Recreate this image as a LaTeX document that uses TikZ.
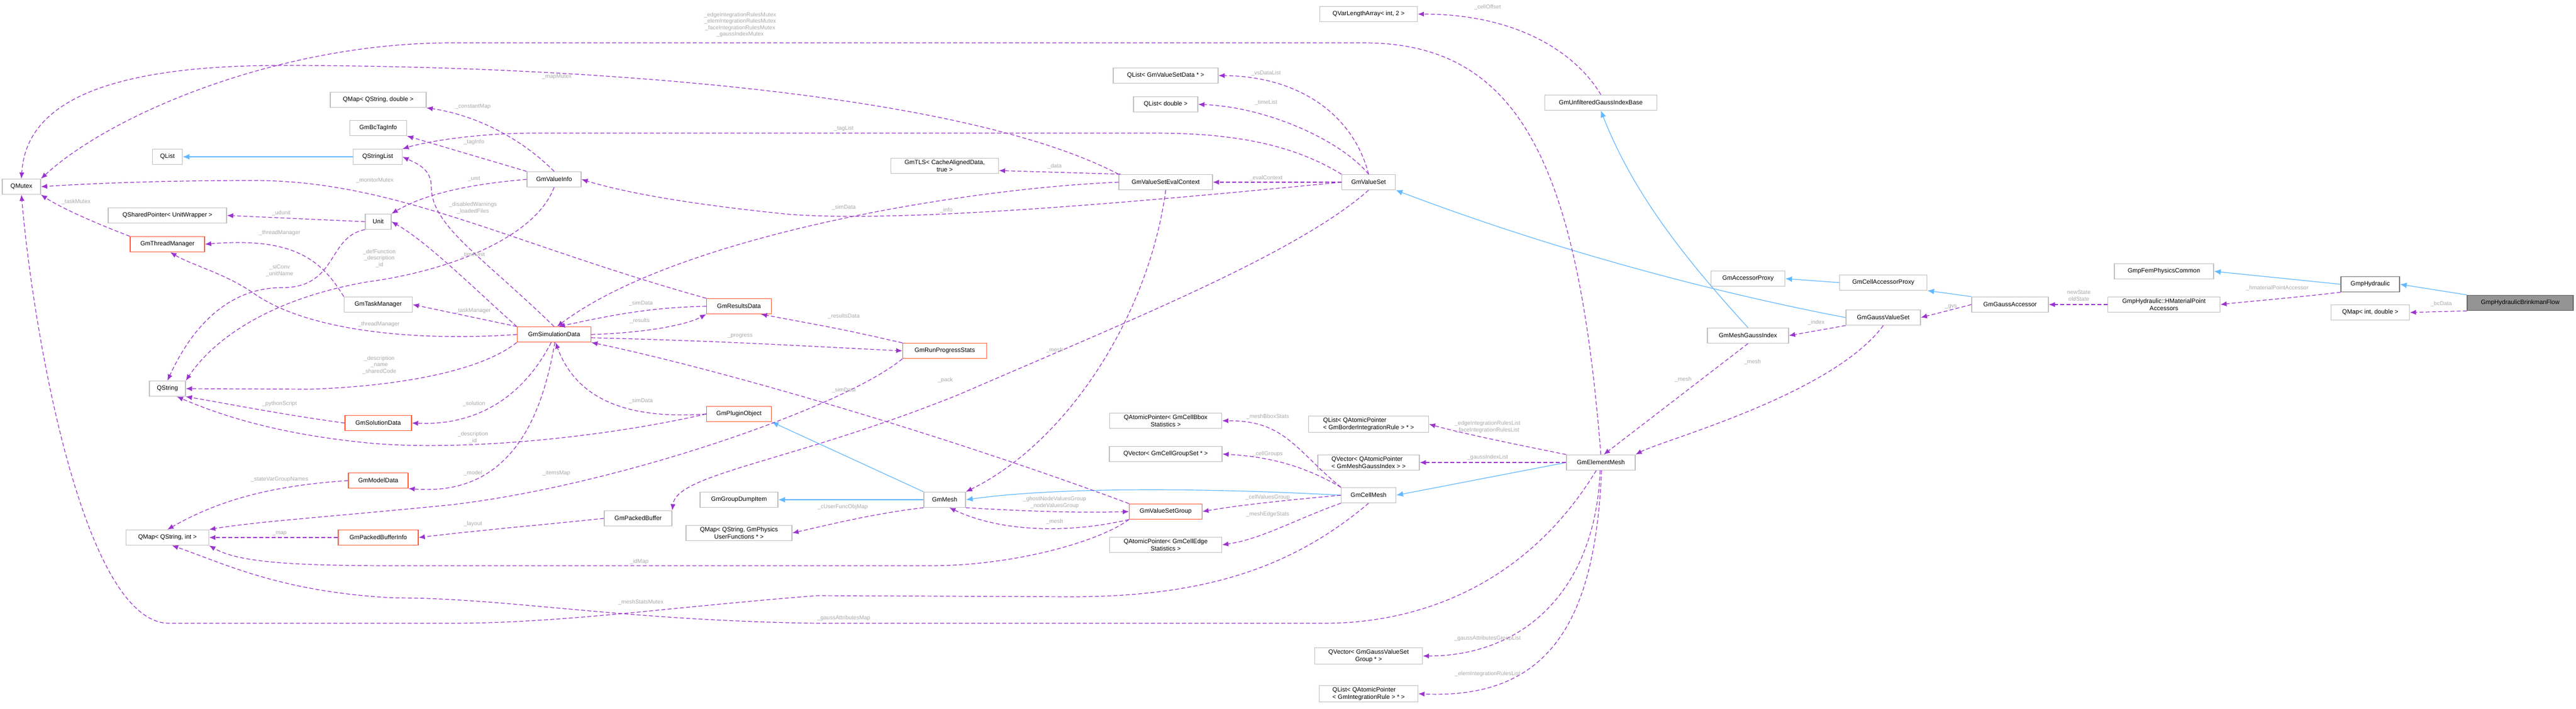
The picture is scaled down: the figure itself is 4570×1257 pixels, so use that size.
\documentclass[tikz,border=0pt]{standalone}
\usepackage{fontspec}
\setmainfont{Liberation Sans}
\usetikzlibrary{arrows.meta}
\definecolor{dep}{HTML}{9A32CD}
\definecolor{inh}{HTML}{63B8FF}
\definecolor{bx}{HTML}{BFBFBF}
\definecolor{org}{HTML}{FF5A36}
\definecolor{lbl}{HTML}{A8A8A8}
\begin{document}
\begin{tikzpicture}[x=1pt,y=-1pt,
  box/.style={draw=bx,line width=1.3pt,fill=white,minimum height=27pt,inner sep=3pt,font=\fontsize{11}{13}\selectfont,align=center},
  obox/.style={box,draw=org},
  tbox/.style={box,fill=black!42,draw=black!60},
  dp/.style={draw=dep,line width=1.2pt,dash pattern=on 7pt off 4pt,-{Latex[length=11pt,width=9pt]}},
  ih/.style={draw=inh,line width=1.2pt,-{Latex[length=12pt,width=10pt]}},
  lb/.style={text=lbl,font=\fontsize{10}{11.5}\selectfont,align=center,inner sep=0pt}]
\useasboundingbox (0,0) rectangle (4570,1257);
% nodes
\node[box,minimum width=68] (qmutex) at (38,331) {QMutex};
\node[box,minimum width=53] (qlist) at (297,278) {QList};
\node[box,minimum width=87] (qsl) at (670,278) {QStringList};
\node[box,minimum width=101] (tag) at (671,227) {GmBcTagInfo};
\node[box,minimum width=170] (qsd) at (671,177) {QMap< QString, double >};
\node[box,minimum width=210] (qsp) at (297,382) {QSharedPointer< UnitWrapper >};
\node[box,minimum width=46] (unit) at (671,393) {Unit};
\node[obox,minimum width=132] (gtm) at (297,433) {GmThreadManager};
\node[box,minimum width=64] (qstr) at (297,689) {QString};
\node[box,minimum width=121] (gtk) at (671,540) {GmTaskManager};
\node[obox,minimum width=118] (gsol) at (671,750) {GmSolutionData};
\node[obox,minimum width=106] (gmd) at (671,852) {GmModelData};
\node[box,minimum width=147] (qsi) at (297,953) {QMap< QString, int >};
\node[obox,minimum width=142] (gpbi) at (671,953) {GmPackedBufferInfo};
\node[box,minimum width=96] (gvi) at (983,318) {GmValueInfo};
\node[obox,minimum width=131] (gsd) at (983,593) {GmSimulationData};
\node[obox,minimum width=115] (grd) at (1311,543) {GmResultsData};
\node[obox,minimum width=115] (gpo) at (1311,734) {GmPluginObject};
\node[box,minimum width=120] (gpb) at (1132,919) {GmPackedBuffer};
\node[box,minimum width=138] (gdump) at (1311,886) {GmGroupDumpItem};
\node[box,minimum width=188] (qpuf) at (1311,945) {QMap< QString, GmPhysics\\UserFunctions * >};
\node[box,minimum width=186] (qlvsd) at (2068,134) {QList< GmValueSetData * >};
\node[box,minimum width=114] (qld) at (2068,185) {QList< double >};
\node[box,minimum width=191] (tls) at (1676,294) {GmTLS< CacheAlignedData,\\true >};
\node[box,minimum width=166] (evc) at (2068,323) {GmValueSetEvalContext};
\node[obox,minimum width=149] (grp) at (1676,622) {GmRunProgressStats};
\node[box,minimum width=74] (gmesh) at (1676,886) {GmMesh};
\node[obox,minimum width=129] (gvsg) at (2068,907) {GmValueSetGroup};
\node[box,minimum width=199] (bbox) at (2068,746) {QAtomicPointer< GmCellBbox\\Statistics >};
\node[box,minimum width=200] (cgs) at (2068,805) {QVector< GmCellGroupSet * >};
\node[box,minimum width=199] (edge) at (2068,966) {QAtomicPointer< GmCellEdge\\Statistics >};
\node[box,minimum width=173] (qvla) at (2428,25) {QVarLengthArray< int, 2 >};
\node[box,minimum width=95] (vs) at (2428,323) {GmValueSet};
\node[box,minimum width=199] (gug) at (2840,182) {GmUnfilteredGaussIndexBase};
\node[box,minimum width=131] (ap) at (3101,494) {GmAccessorProxy};
\node[box,minimum width=144] (mgi) at (3101,595) {GmMeshGaussIndex};
\node[box,minimum width=97] (cm) at (2428,878) {GmCellMesh};
\node[box,minimum width=213,align=left] (qlbir) at (2428,752) {QList< QAtomicPointer\\< GmBorderIntegrationRule > * >};
\node[box,minimum width=180,align=left] (qvmgi) at (2428,820) {QVector< QAtomicPointer\\< GmMeshGaussIndex > >};
\node[box,minimum width=122] (em) at (2840,820) {GmElementMesh};
\node[box,minimum width=191] (qvgvsg) at (2428,1163) {QVector< GmGaussValueSet\\Group * >};
\node[box,minimum width=175,align=left] (qlir) at (2428,1230) {QList< QAtomicPointer\\< GmIntegrationRule > * >};
\node[box,minimum width=155] (cap) at (3341,501) {GmCellAccessorProxy};
\node[box,minimum width=136] (ga) at (3566,540) {GmGaussAccessor};
\node[box,minimum width=132] (gvset) at (3341,563) {GmGaussValueSet};
\node[box,minimum width=176] (gfpc) at (3839,481) {GmpFemPhysicsCommon};
\node[box,minimum width=199] (hmpa) at (3839,540) {GmpHydraulic::HMaterialPoint\\Accessors};
\node[box,minimum width=104,draw=black!55] (gh) at (4205,504) {GmpHydraulic};
\node[box,minimum width=139] (qid) at (4205,554) {QMap< int, double >};
\node[tbox,minimum width=188] (bf) at (4471,537) {GmpHydraulicBrinkmanFlow};
% inheritance
\draw[ih] (qsl.west) -- (qlist.east);
\draw[ih] (gmesh.north west) -- (gpo.south east);
\draw[ih] (gmesh.west) -- (gdump.east);
\draw[ih] (cm.west) .. controls (2200,868) and (1900,860) .. (gmesh.east);
\draw[ih] (em.west) -- (cm.east);
\draw[ih] (mgi.north) .. controls (3000,470) and (2900,350) .. (gug.south);
\draw[ih] (gvset.west) .. controls (3100,530) and (2800,460) .. (vs.south east);
\draw[ih] (cap.west) -- (ap.east);
\draw[ih] (ga.north west) -- (cap.south east);
\draw[ih] (gh.west) -- (gfpc.east);
\draw[ih] (bf.north west) -- (gh.east);
% dependencies
\draw[dp] (em.north) .. controls (2800,300) and (2700,76) .. (2420,76) -- (800,76) .. controls (500,76) and (200,200) .. (qmutex.north east);
\draw[dp] (evc.north west) .. controls (1700,160) and (1000,116) .. (500,116) .. controls (150,116) and (45,200) .. (qmutex.north);
\draw[dp] (grd.north west) .. controls (900,430) and (700,320) .. (450,320) .. controls (250,320) and (120,328) .. (qmutex.east);
\draw[dp] (gtm.north west) .. controls (180,400) and (110,370) .. (qmutex.south east);
\draw[dp] (cm.south) .. controls (2300,1000) and (2150,1058) .. (1900,1058) -- (1450,1056) .. controls (1200,1075) and (1000,1105) .. (800,1105) -- (300,1105) .. controls (150,1105) and (60,600) .. (qmutex.south);
\draw[dp] (em.240) .. controls (2700,1050) and (2500,1105) .. (2350,1105) -- (1450,1105) .. controls (1100,1100) and (900,1060) .. (700,1060) .. controls (500,1050) and (400,1000) .. (qsi.-60);
\draw[dp] (gvi.north) .. controls (930,250) and (850,205) .. (qsd.south east);
\draw[dp] (gvi.north west) -- (tag.south east);
\draw[dp] (vs.north west) .. controls (2300,260) and (2200,236) .. (2050,236) -- (950,236) .. controls (850,236) and (760,250) .. (qsl.north east);
\draw[dp] (gsd.north) .. controls (850,450) and (765,400) .. (765,330) .. controls (765,300) and (740,290) .. (qsl.east);
\draw[dp] (gvi.west) .. controls (850,325) and (760,340) .. (unit.north east);
\draw[dp] (unit.west) -- (qsp.east);
\draw[dp] (unit.south west) .. controls (580,420) and (600,510) .. (500,510) .. controls (420,510) and (350,560) .. (qstr.north);
\draw[dp] (gsd.north west) .. controls (850,520) and (760,430) .. (unit.east);
\draw[dp] (gtk.north west) .. controls (570,460) and (520,420) .. (gtm.east);
\draw[dp] (gsd.west) .. controls (750,605) and (550,590) .. (450,520) .. controls (400,485) and (340,470) .. (gtm.-70);
\draw[dp] (gvi.south) .. controls (950,420) and (800,480) .. (650,500) .. controls (480,530) and (380,600) .. (qstr.north east);
\draw[dp] (gsd.south west) .. controls (850,660) and (700,685) .. (550,690) -- (qstr.east);
\draw[dp] (gsol.west) .. controls (500,735) and (400,715) .. (qstr.south east);
\draw[dp] (gpo.west) .. controls (1050,780) and (800,800) .. (650,785) .. controls (500,770) and (400,740) .. (qstr.-40);
\draw[dp] (gsd.north west) -- (gtk.east);
\draw[dp] (gsd.250) .. controls (930,700) and (850,755) .. (gsol.east);
\draw[dp] (gsd.275) .. controls (960,750) and (900,880) .. (gmd.south east);
\draw[dp] (gmd.west) .. controls (500,860) and (400,880) .. (qsi.north);
\draw[dp] (gpbi.west) -- (qsi.east);
\draw[dp] (gpb.west) .. controls (1000,927) and (850,940) .. (gpbi.east);
\draw[dp] (gvsg.south west) .. controls (1950,960) and (1800,1003) .. (1650,1003) -- (700,1003) .. controls (500,1003) and (420,995) .. (qsi.south east);
\draw[dp] (grp.south west) .. controls (1500,720) and (1100,860) .. (800,895) .. controls (600,915) and (450,925) .. (qsi.north east);
\draw[dp] (grd.west) .. controls (1150,545) and (1080,560) .. (gsd.60);
\draw[dp] (gsd.east) .. controls (1150,590) and (1220,575) .. (grd.south west);
\draw[dp] (gsd.-5) .. controls (1300,605) and (1450,615) .. (grp.west);
\draw[dp] (grp.north west) .. controls (1500,585) .. (grd.-20);
\draw[dp] (gpo.west) .. controls (1100,745) and (1020,700) .. (gsd.-80);
\draw[dp] (gvsg.north west) .. controls (1700,780) and (1300,660) .. (gsd.south east);
\draw[dp] (gmesh.south west) .. controls (1550,910) and (1450,935) .. (qpuf.east);
\draw[dp] (gmesh.south east) .. controls (1800,905) and (1900,910) .. (gvsg.west);
\draw[dp] (gvsg.south west) .. controls (1900,945) and (1780,945) .. (gmesh.-60);
\draw[dp] (evc.south) .. controls (2040,550) and (1900,780) .. (gmesh.north east);
\draw[dp] (evc.170) -- (tls.-5);
\draw[dp] (evc.west) .. controls (1700,335) and (1200,420) .. (gsd.70);
\draw[dp] (vs.west) .. controls (2000,360) and (1600,395) .. (1400,380) .. controls (1250,365) and (1120,345) .. (gvi.east);
\draw[dp] (vs.west) -- (evc.east);
\draw[dp] (vs.north) .. controls (2400,200) and (2300,135) .. (qlvsd.east);
\draw[dp] (vs.north) .. controls (2380,250) and (2250,190) .. (qld.east);
\draw[dp] (vs.south) .. controls (2300,450) and (2000,570) .. (1700,700) .. controls (1400,820) and (1200,840) .. (gpb.north east);
\draw[dp] (gug.north) .. controls (2800,100) and (2700,25) .. (qvla.east);
\draw[dp] (ga.west) -- (gvset.east);
\draw[dp] (gvset.south west) -- (mgi.east);
\draw[dp] (gvset.south) .. controls (3250,700) and (2950,780) .. (em.north east);
\draw[dp] (mgi.south) -- (em.70);
\draw[dp] (hmpa.west) -- (ga.east);
\draw[dp] (gh.south west) .. controls (4050,530) and (3980,535) .. (hmpa.east);
\draw[dp] (bf.south west) -- (qid.east);
\draw[dp] (em.north west) .. controls (2700,790) and (2600,770) .. (qlbir.east);
\draw[dp] (em.west) -- (qvmgi.east);
\draw[dp] (em.-95) .. controls (2830,1050) and (2700,1163) .. (qvgvsg.east);
\draw[dp] (em.-85) .. controls (2830,1100) and (2750,1240) .. (qlir.east);
\draw[dp] (cm.north west) .. controls (2300,800) and (2280,745) .. (bbox.east);
\draw[dp] (cm.north west) .. controls (2320,830) and (2260,810) .. (cgs.east);
\draw[dp] (cm.west) .. controls (2300,885) and (2200,895) .. (gvsg.east);
\draw[dp] (cm.south west) .. controls (2300,920) and (2240,955) .. (edge.east);
% labels
\node[lb] (l1) at (1313,44) {\_edgeIntegrationRulesMutex\\\_elemIntegrationRulesMutex\\\_faceIntegrationRulesMutex\\\_gaussIndexMutex};
\node[lb] (l2) at (988,136) {\_mapMutex};
\node[lb] (l3) at (665,320) {\_monitorMutex};
\node[lb] (l4) at (135,358) {\_taskMutex};
\node[lb] (l5) at (1137,1068) {\_meshStatsMutex};
\node[lb] (l6) at (839,189) {\_constantMap};
\node[lb] (l7) at (841,252) {\_tagInfo};
\node[lb] (l8) at (1497,228) {\_tagList};
\node[lb] (l9) at (839,369) {\_disabledWarnings\\\_loadedFiles};
\node[lb] (l10) at (841,317) {\_unit};
\node[lb] (l11) at (499,378) {\_udunit};
\node[lb] (l12) at (496,480) {\_siConv\\\_unitName};
\node[lb] (l13) at (839,452) {\_timeUnit};
\node[lb] (l14) at (496,413) {\_threadManager};
\node[lb] (l15) at (672,575) {\_threadManager};
\node[lb] (l16) at (673,458) {\_defFunction\\\_description\\\_id};
\node[lb] (l17) at (673,647) {\_description\\\_name\\\_sharedCode};
\node[lb] (l18) at (496,716) {\_pythonScript};
\node[lb] (l19) at (839,776) {\_description\\\_id};
\node[lb] (l20) at (839,551) {\_taskManager};
\node[lb] (l21) at (841,716) {\_solution};
\node[lb] (l22) at (839,839) {\_model};
\node[lb] (l23) at (987,839) {\_itemsMap};
\node[lb] (l24) at (496,850) {\_stateVarGroupNames};
\node[lb] (l25) at (496,946) {\_map};
\node[lb] (l26) at (839,929) {\_layout};
\node[lb] (l27) at (1134,996) {\_idMap};
\node[lb] (l28) at (1497,1096) {\_gaussAttributesMap};
\node[lb] (l29) at (1137,538) {\_simData};
\node[lb] (l30) at (1135,569) {\_results};
\node[lb] (l31) at (1313,596) {\_progress};
\node[lb] (l32) at (1137,711) {\_simData};
\node[lb] (l33) at (1497,561) {\_resultsData};
\node[lb] (l34) at (1497,692) {\_simData};
\node[lb] (l35) at (1677,674) {\_pack};
\node[lb] (l36) at (1871,621) {\_mesh};
\node[lb] (l37) at (1495,899) {\_cUserFuncObjMap};
\node[lb] (l38) at (1871,891) {\_ghostNodeValuesGroup\\\_nodeValuesGroup};
\node[lb] (l39) at (1871,925) {\_mesh};
\node[lb] (l40) at (1871,295) {\_data};
\node[lb] (l41) at (1497,368) {\_simData};
\node[lb] (l42) at (1679,373) {\_info};
\node[lb] (l43) at (2246,316) {\_evalContext};
\node[lb] (l44) at (2246,130) {\_vsDataList};
\node[lb] (l45) at (2246,182) {\_timeList};
\node[lb] (l46) at (2639,13) {\_cellOffset};
\node[lb] (l47) at (2249,739) {\_meshBboxStats};
\node[lb] (l48) at (2249,805) {\_cellGroups};
\node[lb] (l49) at (2249,882) {\_cellValuesGroup};
\node[lb] (l50) at (2249,912) {\_meshEdgeStats};
\node[lb] (l51) at (2639,757) {\_edgeIntegrationRulesList\\\_faceIntegrationRulesList};
\node[lb] (l52) at (2639,811) {\_gaussIndexList};
\node[lb] (l53) at (2639,1132) {\_gaussAttributesGroupList};
\node[lb] (l54) at (2639,1195) {\_elemIntegrationRulesList};
\node[lb] (l55) at (2986,673) {\_mesh};
\node[lb] (l56) at (3109,642) {\_mesh};
\node[lb] (l57) at (3222,572) {\_index};
\node[lb] (l58) at (3461,544) {\_gvs};
\node[lb] (l59) at (3688,524) {newState\\oldState};
\node[lb] (l60) at (4040,511) {\_hmaterialPointAccessor};
\node[lb] (l61) at (4331,539) {\_bcData};
\end{tikzpicture}
\end{document}
